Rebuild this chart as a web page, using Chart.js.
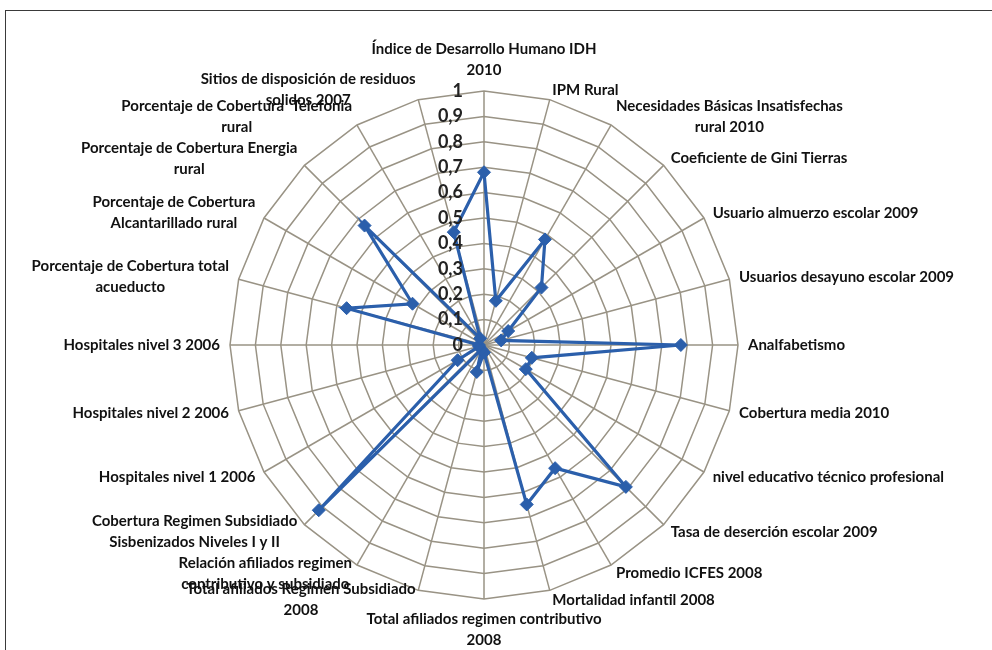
<!DOCTYPE html>
<html>
<head>
<meta charset="utf-8">
<script src="https://cdn.jsdelivr.net/npm/chart.js@4.4.0/dist/chart.umd.min.js"></script>
<style>
  html, body { margin: 0; padding: 0; background: #fff; overflow: hidden; }
  #frame { position: absolute; left: 5px; top: 10px; width: 1100px; height: 800px; border: 1.5px solid #3a3a3a; }
  #chart { position: absolute; left: 0; top: 0; }
</style>
</head>
<body>
<div id="frame"></div>
<canvas id="chart" width="992" height="650"></canvas>
<script>
// categories, clockwise from the top
const categories = [
  ["Índice de Desarrollo Humano IDH", "2010"],
  ["IPM Rural"],
  ["Necesidades Básicas Insatisfechas", "rural 2010"],
  ["Coeficiente de Gini Tierras"],
  ["Usuario almuerzo escolar 2009"],
  ["Usuarios desayuno escolar 2009"],
  ["Analfabetismo"],
  ["Cobertura media 2010"],
  ["nivel educativo técnico profesional"],
  ["Tasa de deserción escolar 2009"],
  ["Promedio ICFES 2008"],
  ["Mortalidad infantil 2008"],
  ["Total afiliados regimen contributivo", "2008"],
  ["Total afiliados Regimen Subsidiado", "2008"],
  ["Relación afiliados regimen", "contributivo y subsidiado"],
  ["Cobertura Regimen Subsidiado", "Sisbenizados Niveles I y II"],
  ["Hospitales nivel 1 2006"],
  ["Hospitales nivel 2 2006"],
  ["Hospitales nivel 3 2006"],
  ["Porcentaje de Cobertura total", "acueducto"],
  ["Porcentaje de Cobertura", "Alcantarillado rural"],
  ["Porcentaje de Cobertura Energia", "rural"],
  ["Porcentaje de Cobertura  Telefonia", "rural"],
  ["Sitios de disposición de residuos", "solidos 2007"]
];

const indicatorValues = [
  0.68, 0.18, 0.48, 0.32, 0.11, 0.07, 0.775, 0.195, 0.19, 0.79, 0.56, 0.65,
  0.03, 0.11, 0.02, 0.92, 0.12, 0.02, 0.02, 0.56, 0.325, 0.665, 0.03, 0.46
];

const tickValues = [0, 0.1, 0.2, 0.3, 0.4, 0.5, 0.6, 0.7, 0.8, 0.9, 1];

const gridColor = "#999385";
const seriesColor = "#2b5fab";
const labelFont = "bold 15px Lato, 'Liberation Sans', sans-serif";
const tickFont = "bold 18px Lato, 'Liberation Sans', sans-serif";

// Excel-style category and tick labels around the radar
const excelLabels = {
  id: "excelLabels",
  afterDraw(chart) {
    const scale = chart.scales.r;
    const ctx = chart.ctx;
    const lineH = 21;
    ctx.save();
    ctx.fillStyle = "#111";
    ctx.font = labelFont;
    ctx.textBaseline = "middle";
    ctx.textAlign = "center";

    categories.forEach((lines, i) => {
      const p = scale.getPointPosition(i, scale.drawingArea + 10);
      const deg = Math.round(i * 360 / categories.length);
      const blockW = Math.max(...lines.map(l => ctx.measureText(l).width));
      const blockH = lines.length * lineH;
      let cx = p.x;
      let top = p.y - blockH / 2;
      if (deg === 0) top = p.y - blockH;
      else if (deg === 180) top = p.y;
      else if (deg < 180) cx = p.x + blockW / 2;
      else cx = p.x - blockW / 2;
      lines.forEach((l, k) => ctx.fillText(l, cx, top + lineH * (k + 0.5)));
    });

    ctx.font = tickFont;
    ctx.fillStyle = "#222";
    ctx.textAlign = "right";
    tickValues.forEach(v => {
      const p = scale.getPointPosition(0, scale.getDistanceFromCenterForValue(v));
      ctx.fillText(String(v).replace(".", ","), p.x - 21, p.y);
    });
    ctx.restore();
  }
};

new Chart(document.getElementById("chart"), {
  type: "radar",
  data: {
    labels: categories,
    datasets: [{
      data: indicatorValues,
      borderColor: seriesColor,
      backgroundColor: seriesColor,
      borderWidth: 3.2,
      fill: false,
      tension: 0,
      pointStyle: "rectRot",
      pointRadius: 6.5,
      pointBorderWidth: 1,
      pointBackgroundColor: seriesColor
    }]
  },
  options: {
    responsive: false,
    devicePixelRatio: 1,
    animation: false,
    layout: { padding: { left: 230, right: 254, top: 91, bottom: 51 } },
    plugins: { legend: { display: false }, tooltip: { enabled: false } },
    scales: {
      r: {
        min: 0,
        max: 1,
        ticks: { display: false, stepSize: 0.1 },
        pointLabels: { display: false },
        grid: { color: gridColor, lineWidth: 1.5 },
        angleLines: { color: gridColor, lineWidth: 1.5 }
      }
    }
  },
  plugins: [excelLabels]
});
</script>
</body>
</html>
